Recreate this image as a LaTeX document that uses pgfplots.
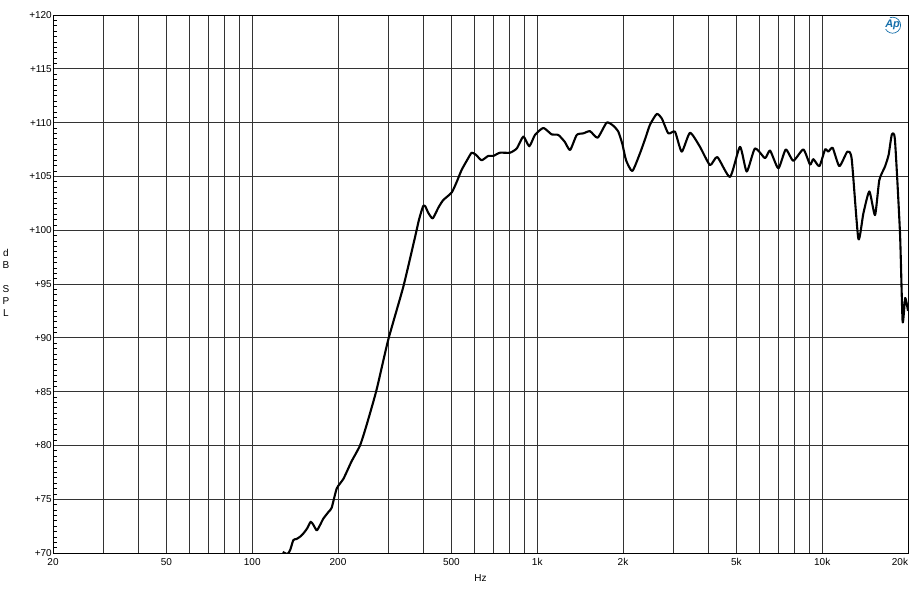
\documentclass[border=0pt]{standalone}
\usepackage{fontspec}
\setmainfont{Liberation Sans}
\usepackage{pgfplots}
\pgfplotsset{compat=1.18}
\definecolor{apblue}{RGB}{20,110,170}

\begin{document}
\begin{tikzpicture}
\begin{axis}[
    name=ax,
    xmode=log,
    scale only axis,
    width=855pt, height=538pt,
    xmin=20, xmax=20000,
    ymin=70, ymax=120,
    xtick={20,50,100,200,500,1000,2000,5000,10000,20000},
    xticklabels={20,50,100,200,500,1k,2k,5k,10k,\makebox[0pt][r]{20k}},
    minor xtick={30,40,60,70,80,90,300,400,600,700,800,900,3000,4000,6000,7000,8000,9000},
    ytick={70,75,...,120},
    yticklabels={+70,+75,+80,+85,+90,+95,+100,+105,+110,+115,+120},
    minor y tick num=9,
    xmajorgrids, xminorgrids, ymajorgrids,
    grid style={black!80, line width=0.85pt},
    minor grid style={black!80, line width=0.85pt},
    axis line style={black, line width=0.9pt},
    ytick pos=left,
    tick align=inside,
    major tick length=0pt,
    minor tick length=4pt,
    xtick style={draw=none},
    minor x tick style={draw=none},
    minor y tick style={black, line width=0.6pt},
    tick label style={font=\fontsize{10}{12}\selectfont},
    yticklabel style={inner sep=1pt},
    xticklabel style={inner sep=1.5pt, yshift=-4pt},
    xlabel={Hz},
    xlabel style={at={(axis description cs:0.5,0)}, anchor=center, yshift=-25pt, font=\fontsize{10}{12}\selectfont},
    clip mode=individual,
]
\addplot[black, line width=2.1pt, line join=round, smooth, tension=0.35] coordinates {
(128,70.1) (133,69.9) (136,70.3) (139.4,71.2) (143,71.3) (147,71.5) (151,71.8)
(156,72.3) (160.4,72.9) (164,72.6) (168.5,72.1) (173,72.6) (177.7,73.2) (185,73.8)
(190,74.2) (198,76.0) (209,76.9) (223,78.5) (239,80.0) (252,81.9) (273,85.15)
(300,89.8) (339,94.75) (373,99.4) (385,101.0) (398,102.25) (405,102.2) (415,101.6)
(430,101.1) (450,102.1) (468,102.8) (501,103.5) (522,104.5) (543,105.6) (570,106.6)
(589,107.2) (610,107.0) (638,106.5) (673,106.9) (701,106.9) (740,107.2) (802,107.2)
(848,107.6) (894,108.7) (938,107.8) (982,108.85) (1051,109.5) (1124,108.9) (1186,108.85)
(1250,108.2) (1304,107.45) (1376,108.85) (1452,109.0) (1532,109.2) (1630,108.6) (1753,110.0)
(1850,109.7) (1926,109.15) (1990,108.0) (2050,106.5) (2156,105.5) (2294,107.15) (2400,108.6)
(2487,109.8) (2626,110.8) (2734,110.4) (2884,109.0) (3044,109.15) (3214,107.3) (3436,109.05)
(3724,107.75) (4038,106.05) (4286,106.8) (4748,104.95) (5146,107.75) (5434,105.45) (5808,107.6)
(6296,106.7) (6562,107.4) (7015,105.75) (7449,107.5) (7918,106.45) (8586,107.5) (9060,106.1)
(9310,106.6) (9775,105.95) (10232,107.5) (10508,107.3) (10882,107.65) (11484,105.95) (12250,107.3)
(12690,106.6) (13390,99.2) (13942,101.55) (14636,103.6) (15320,101.4) (15860,104.65) (16600,105.9)
(17100,107.0) (17540,108.85) (17996,108.4) (18750,99.7) (19150,91.5) (19550,93.7) (20000,92.5)
};
\node[text=apblue, font=\bfseries\itshape\fontsize{11}{12}\selectfont, inner sep=0pt] (ap) at (rel axis cs:0.982,0.981) {Ap};
\draw[apblue, line width=0.7pt] (ap.center) ++(110:8pt) arc[start angle=110, end angle=-150, radius=8pt];
\node[font=\fontsize{10}{12}\selectfont, align=center, inner sep=0pt] at (axis description cs:0,0.5) [xshift=-47pt]
  {\begin{tabular}{@{}c@{}}d\\B\\ \\S\\P\\L\end{tabular}};
\end{axis}
\path (ax.south west) ++(-53pt,-47pt) coordinate (bl);
\path (ax.north east) ++(2pt,15pt) coordinate (tr);
\path (bl) rectangle (tr);
\end{tikzpicture}
\end{document}
